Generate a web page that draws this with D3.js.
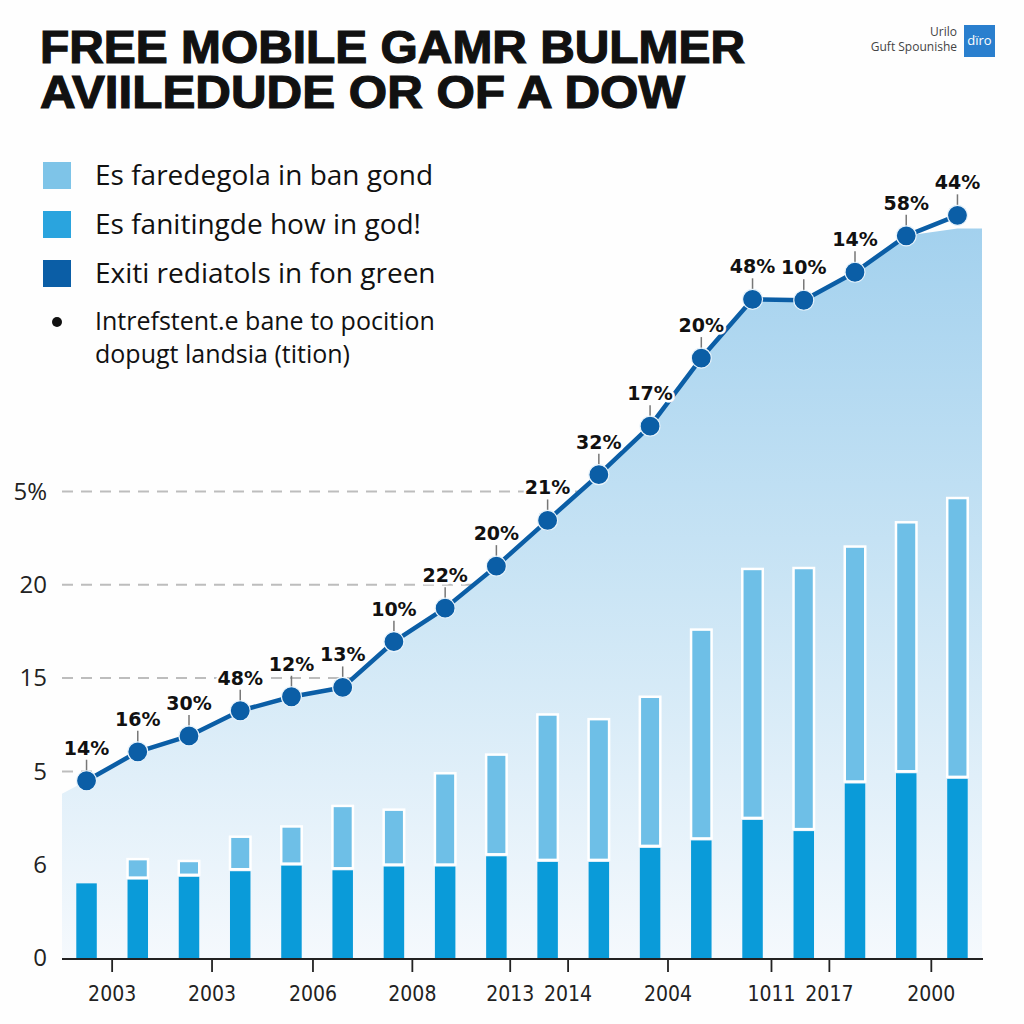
<!DOCTYPE html>
<html><head><meta charset="utf-8">
<script src="https://cdn.jsdelivr.net/npm/d3@7"></script>
<style>body{margin:0;background:#fff} svg{display:block}</style>
</head><body>
<svg id="c" width="1024" height="1024"></svg>
<script>
// ---------- data ----------
const titleLines = ["FREE MOBILE GAMR BULMER", "AVIILEDUDE OR OF A DOW"];
const logoLines = ["Urilo", "Guft Spounishe"];
const logoMark = "dïro";
const legendLabels = ["Es faredegola in ban gond", "Es fanitingde how in god!", "Exiti rediatols in fon green"];
const legendNote = ["Intrefstent.e bane to pocition", "dopugt landsia (tition)"];

const periods = ["P01","P02","P03","P04","P05","P06","P07","P08","P09","P10","P11","P12","P13","P14","P15","P16","P17","P18"];
const baseValues  = [0.80,0.84,0.87,0.93,0.99,0.94,0.98,0.98,1.09,1.03,1.03,1.18,1.26,1.48,1.36,1.87,1.98,1.92];
const upperValues = [0.00,0.22,0.17,0.37,0.42,0.69,0.61,1.00,1.09,1.58,1.53,1.62,2.26,2.69,2.82,2.54,2.69,3.01];
const lineValues  = [1.90,2.21,2.38,2.65,2.80,2.90,3.39,3.75,4.20,4.69,5.18,5.70,6.43,7.06,7.05,7.35,7.74,7.96];
const lineLabels  = ["14%","16%","30%","48%","12%","13%","10%","22%","20%","21%","32%","17%","20%","48%","10%","14%","58%","44%"];

const yTickValues = [0,1,2,3,4,5];
const yTickLabels = ["0","6","5","15","20","5%"];
const xTickPositions = [0.49,2.44,4.41,6.35,8.26,9.39,11.34,13.36,14.49,16.48];
const xTickLabels = ["2003","2003","2006","2008","2013","2014","2004","1011","2017","2000"];

// ---------- style ----------
const C = {light:"#6ebfe7", mid:"#0a9bd9", navy:"#0b5ea6", legLight:"#7ec4e8", legMid:"#2aa4de"};
const areaCap = 7.82;

const svg = d3.select("#c");
const defs = svg.append("defs");

const plot = {left:62, right:982, bottom:958, top5:491.5};
const x = d3.scaleBand().domain(periods).range([plot.left, plot.right]).paddingInner(0.6).paddingOuter(0.279);
const y = d3.scaleLinear().domain([0,5]).range([plot.bottom, plot.top5]);
const cx = d => x(d) + x.bandwidth()/2;
const xIdx = d3.scaleLinear().domain([0, periods.length-1]).range([cx(periods[0]), cx(periods[periods.length-1])]);

// background
svg.append("rect").attr("width",1024).attr("height",1024).attr("fill","#fefefe");

// title
const title = svg.append("g");
title.selectAll("text").data(titleLines).join("text")
  .attr("x",40).attr("y",(d,i)=>63+i*45)
  .attr("font-family","'Liberation Sans Narrow','Liberation Sans',Arial,sans-serif")
  .attr("font-weight","bold").attr("font-size",46).attr("fill","#111")
  .attr("stroke","#111").attr("stroke-width",1.2)
  .attr("textLength",(d,i)=>i===0?705:645).attr("lengthAdjust","spacingAndGlyphs")
  .text(d=>d);

// logo
svg.append("g").selectAll("text").data(logoLines).join("text")
  .attr("x",957).attr("y",(d,i)=>36+i*15).attr("text-anchor","end")
  .attr("font-family","'Open Sans',sans-serif").attr("font-size",12).attr("fill","#444")
  .text(d=>d);
svg.append("rect").attr("x",964).attr("y",25).attr("width",31).attr("height",32).attr("fill","#2a7fce");
svg.append("text").attr("x",979.5).attr("y",45).attr("text-anchor","middle")
  .attr("font-family","'Open Sans',sans-serif").attr("font-size",13).attr("fill","#fff").text(logoMark);

// legend
const legColors = [C.legLight, C.legMid, C.navy];
const leg = svg.append("g");
leg.selectAll("rect").data(legendLabels).join("rect")
  .attr("x",43).attr("y",(d,i)=>162+i*49).attr("width",28).attr("height",27)
  .attr("fill",(d,i)=>legColors[i]);
leg.selectAll("text.l").data(legendLabels).join("text").attr("class","l")
  .attr("x",95).attr("y",(d,i)=>185+i*49)
  .attr("font-family","'Open Sans',sans-serif").attr("font-size",28).attr("fill","#111")
  .text(d=>d);
leg.append("circle").attr("cx",57).attr("cy",322).attr("r",5).attr("fill","#111");
leg.selectAll("text.n").data(legendNote).join("text").attr("class","n")
  .attr("x",95).attr("y",(d,i)=>330+i*33)
  .attr("font-family","'Open Sans',sans-serif").attr("font-size",25).attr("fill","#111")
  .text(d=>d);

// gridlines (dashed)
svg.append("g").selectAll("line").data(yTickValues.slice(1)).join("line")
  .attr("x1",plot.left).attr("x2",plot.right).attr("y1",d=>y(d)).attr("y2",d=>y(d))
  .attr("stroke","#bdbdbd").attr("stroke-width",2).attr("stroke-dasharray","11,8");

// area gradient
const grad = defs.append("linearGradient").attr("id","ag").attr("gradientUnits","userSpaceOnUse")
  .attr("x1",0).attr("x2",0).attr("y1",y(areaCap)).attr("y2",plot.bottom);
grad.append("stop").attr("offset","0").attr("stop-color","#a3d1ee");
grad.append("stop").attr("offset","0.5").attr("stop-color","#cbe5f5");
grad.append("stop").attr("offset","1").attr("stop-color","#f5f9fd");

const areaPts = [[plot.left, y(lineValues[0]) + 13]]
  .concat(lineValues.map((v,i)=>[cx(periods[i]), y(Math.min(v, areaCap))]))
  .concat([[plot.right, y(Math.min(lineValues[lineValues.length-1], areaCap))]]);
svg.append("path").datum(areaPts)
  .attr("d", d3.area().x(d=>d[0]).y0(plot.bottom).y1(d=>d[1]))
  .attr("fill","url(#ag)");

// bars
const bars = svg.append("g");
bars.selectAll("rect.b").data(periods).join("rect").attr("class","b")
  .attr("x",d=>x(d)).attr("width",x.bandwidth())
  .attr("y",(d,i)=>y(baseValues[i])).attr("height",(d,i)=>plot.bottom - y(baseValues[i]))
  .attr("fill",C.mid);
bars.selectAll("rect.u").data(periods.filter((d,i)=>upperValues[i]>0)).join("rect").attr("class","u")
  .attr("x",d=>x(d)).attr("width",x.bandwidth())
  .attr("y",d=>{const i=periods.indexOf(d); return y(baseValues[i]+upperValues[i]);})
  .attr("height",d=>{const i=periods.indexOf(d); return y(baseValues[i]) - y(baseValues[i]+upperValues[i]) - 2;})
  .attr("fill",C.light).attr("stroke","#fff").attr("stroke-width",2.5);

// x axis
const xAxis = d3.axisBottom(xIdx).tickValues(xTickPositions).tickFormat((d,i)=>xTickLabels[i])
  .tickSize(14).tickPadding(14);
const gx = svg.append("g").attr("transform",`translate(0,${plot.bottom})`).call(xAxis);
gx.select(".domain").remove();
gx.selectAll(".tick line").attr("stroke","#222").attr("stroke-width",1.8);
gx.selectAll(".tick text").attr("font-family","'DejaVu Sans Condensed','DejaVu Sans',sans-serif")
  .attr("font-stretch","condensed").attr("font-size",21).attr("fill","#222");
svg.append("line").attr("x1",plot.left).attr("x2",plot.right+1).attr("y1",plot.bottom+1).attr("y2",plot.bottom+1)
  .attr("stroke","#222").attr("stroke-width",2.2);

// y axis
const yAxis = d3.axisLeft(y).tickValues(yTickValues).tickFormat((d,i)=>yTickLabels[i]).tickSize(0).tickPadding(15);
const gy = svg.append("g").attr("transform",`translate(${plot.left},0)`).call(yAxis);
gy.select(".domain").remove();
gy.selectAll(".tick text").attr("font-family","'Open Sans',sans-serif").attr("font-size",24).attr("fill","#222");

// line
const linePts = lineValues.map((v,i)=>[cx(periods[i]), y(v)]);
svg.append("path").datum(linePts).attr("d",d3.line()).attr("fill","none")
  .attr("stroke",C.navy).attr("stroke-width",4.5).attr("stroke-linejoin","round");

// connectors
svg.append("g").selectAll("line").data(linePts).join("line")
  .attr("x1",d=>d[0]).attr("x2",d=>d[0]).attr("y1",d=>d[1]-21).attr("y2",d=>d[1]-9)
  .attr("stroke","#777").attr("stroke-width",1.5);

// markers
svg.append("g").selectAll("circle").data(linePts).join("circle")
  .attr("cx",d=>d[0]).attr("cy",d=>d[1]).attr("r",10)
  .attr("fill",C.navy).attr("stroke","#e8f3fb").attr("stroke-width",1.2);

// labels
svg.append("g").selectAll("text").data(linePts).join("text")
  .attr("x",d=>d[0]).attr("y",d=>d[1]-26).attr("text-anchor","middle")
  .attr("font-family","'DejaVu Sans',sans-serif").attr("font-weight","bold").attr("font-size",19)
  .attr("fill","#111").attr("stroke","#fff").attr("stroke-width",5).attr("paint-order","stroke")
  .attr("stroke-linejoin","round")
  .text((d,i)=>lineLabels[i]);
</script>
</body></html>
